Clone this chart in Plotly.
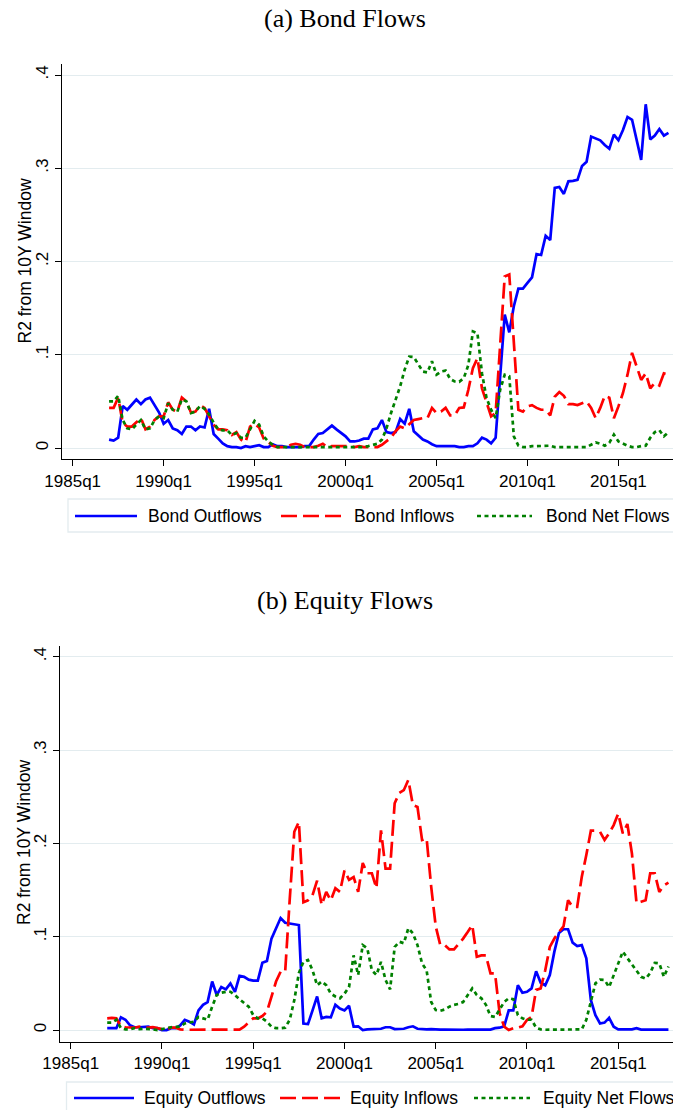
import plotly.graph_objects as go

# ---------------- data ----------------
quarters = [f"{y}q{q}" for y in range(1987, 2018) for q in range(1, 5)]  # 1987q1 .. 2017q4

bond_outflows = [
    0.009, 0.008, 0.011, 0.045, 0.041, 0.046, 0.052, 0.047, 0.052, 0.054,
    0.046, 0.038, 0.026, 0.030, 0.021, 0.019, 0.015, 0.023, 0.023, 0.019,
    0.023, 0.022, 0.042, 0.015, 0.010, 0.005, 0.002, 0.001, 0.001, 0.000,
    0.002, 0.001, 0.002, 0.003, 0.001, 0.001, 0.004, 0.002, 0.002, 0.001,
    0.001, 0.001, 0.001, 0.002, 0.002, 0.009, 0.015, 0.016, 0.020, 0.024,
    0.020, 0.016, 0.0125, 0.007, 0.007, 0.008, 0.010, 0.010, 0.020, 0.021,
    0.030, 0.017, 0.016, 0.017, 0.031, 0.026, 0.042, 0.018, 0.014, 0.009,
    0.007, 0.004, 0.002, 0.002, 0.002, 0.002, 0.002, 0.001, 0.001, 0.002,
    0.002, 0.005, 0.011, 0.009, 0.005, 0.011, 0.077, 0.143, 0.124, 0.152,
    0.171, 0.171, 0.177, 0.183, 0.208, 0.207, 0.2275, 0.223, 0.279, 0.280,
    0.2725, 0.286, 0.2865, 0.2875, 0.3025, 0.307, 0.334, 0.332, 0.330, 0.325,
    0.321, 0.336, 0.330, 0.341, 0.355, 0.352, 0.330, 0.309, 0.3686, 0.331,
    0.335, 0.342, 0.335, 0.338,
]
bond_inflows = [
    0.043, 0.043, 0.054, 0.027, 0.023, 0.023, 0.0275, 0.032, 0.020, 0.023,
    0.030, 0.034, 0.034, 0.049, 0.041, 0.039, 0.054, 0.050, 0.038, 0.039,
    0.046, 0.043, 0.034, 0.025, 0.020, 0.020, 0.019, 0.014, 0.017, 0.009,
    0.006, 0.023, 0.026, 0.022, 0.010, 0.006, 0.0025, 0.001, 0.001, 0.001,
    0.0035, 0.0045, 0.0035, 0.001, 0.001, 0.001, 0.0025, 0.0045, 0.001, 0.002,
    0.002, 0.002, 0.0025, 0.002, 0.001, 0.002, 0.001, 0.001, 0.001, 0.001,
    0.0035, 0.007, 0.011, 0.018, 0.023, 0.021, 0.026, 0.030, 0.031, 0.032,
    0.032, 0.043, 0.0375, 0.039, 0.043, 0.035, 0.035, 0.043, 0.0435, 0.0625,
    0.0857, 0.0964, 0.064, 0.050, 0.034, 0.0375, 0.116, 0.184, 0.186, 0.1125,
    0.041, 0.039, 0.0446, 0.046, 0.043, 0.041, 0.041, 0.035, 0.055, 0.060,
    0.056, 0.047, 0.047, 0.046, 0.048, 0.050, 0.043, 0.032, 0.043, 0.056,
    0.054, 0.032, 0.0446, 0.059, 0.0786, 0.102, 0.0875, 0.073, 0.080, 0.064,
    0.070, 0.067, 0.080, 0.079,
]
bond_net = [
    0.050, 0.050, 0.056, 0.030, 0.021, 0.020, 0.025, 0.030, 0.020, 0.021,
    0.030, 0.034, 0.032, 0.048, 0.041, 0.039, 0.052, 0.050, 0.0375, 0.039,
    0.045, 0.042, 0.036, 0.027, 0.020, 0.019, 0.019, 0.014, 0.016, 0.011,
    0.011, 0.020, 0.029, 0.025, 0.0125, 0.007, 0.0035, 0.001, 0.001, 0.0005,
    0.0005, 0.001, 0.001, 0.0005, 0.0005, 0.001, 0.001, 0.001, 0.0005, 0.001,
    0.001, 0.001, 0.001, 0.0005, 0.0005, 0.001, 0.001, 0.002, 0.0035, 0.0045,
    0.009, 0.021, 0.0375, 0.052, 0.066, 0.084, 0.098, 0.0975, 0.089, 0.082,
    0.081, 0.093, 0.0786, 0.082, 0.083, 0.074, 0.0714, 0.071, 0.075, 0.089,
    0.125, 0.123, 0.080, 0.0536, 0.041, 0.032, 0.0625, 0.0786, 0.077, 0.0125,
    0.0025, 0.001, 0.001, 0.002, 0.002, 0.002, 0.002, 0.0025, 0.001, 0.001,
    0.001, 0.001, 0.001, 0.001, 0.001, 0.001, 0.0035, 0.006, 0.0045, 0.0025,
    0.0055, 0.0143, 0.007, 0.0045, 0.0025, 0.001, 0.001, 0.002, 0.0025, 0.011,
    0.017, 0.019, 0.0125, 0.017,
]
equity_outflows = [
    0.002, 0.002, 0.002, 0.0136, 0.011, 0.005, 0.003, 0.003, 0.003, 0.0036,
    0.002, 0.002, 0.000, 0.000, 0.002, 0.002, 0.005, 0.011, 0.009, 0.006,
    0.021, 0.027, 0.030, 0.052, 0.0375, 0.046, 0.0436, 0.050, 0.041, 0.058,
    0.057, 0.054, 0.053, 0.053, 0.072, 0.074, 0.098, 0.109, 0.120, 0.115,
    0.114, 0.1136, 0.1125, 0.007, 0.0064, 0.021, 0.036, 0.0125, 0.014, 0.0136,
    0.027, 0.023, 0.021, 0.026, 0.0036, 0.004, 0.000, 0.0007, 0.001, 0.001,
    0.0014, 0.003, 0.003, 0.001, 0.0014, 0.0014, 0.003, 0.004, 0.0014, 0.0007,
    0.0007, 0.001, 0.0005, 0.0005, 0.0005, 0.0003, 0.0003, 0.0003, 0.0003, 0.0005,
    0.0005, 0.0005, 0.0005, 0.0005, 0.0005, 0.002, 0.0025, 0.004, 0.021, 0.021,
    0.048, 0.040, 0.041, 0.0446, 0.063, 0.0507, 0.048, 0.059, 0.084, 0.104,
    0.108, 0.108, 0.0936, 0.090, 0.091, 0.0768, 0.032, 0.016, 0.007, 0.008,
    0.013, 0.0036, 0.0007, 0.0007, 0.0005, 0.0007, 0.002, 0.0005, 0.0005, 0.0005,
    0.0007, 0.001, 0.0005, 0.0005,
]
equity_inflows = [
    0.0125, 0.013, 0.0125, 0.004, 0.003, 0.003, 0.0025, 0.0036, 0.003, 0.0025,
    0.003, 0.002, 0.001, 0.001, 0.0025, 0.0025, 0.0007, 0.0003, 0.0003, 0.0003,
    0.0003, 0.0003, 0.0003, 0.0005, 0.0003, 0.0003, 0.0003, 0.0003, 0.0003, 0.0005,
    0.0036, 0.008, 0.0125, 0.0125, 0.015, 0.0196, 0.036, 0.052, 0.0625, 0.0625,
    0.140, 0.2125, 0.223, 0.137, 0.139, 0.1446, 0.160, 0.134, 0.148, 0.139,
    0.152, 0.148, 0.171, 0.161, 0.164, 0.148, 0.179, 0.168, 0.168, 0.152,
    0.214, 0.173, 0.173, 0.243, 0.254, 0.257, 0.268, 0.241, 0.239, 0.2036,
    0.2054, 0.1536, 0.111, 0.091, 0.091, 0.0864, 0.0864, 0.092, 0.098, 0.105,
    0.1125, 0.0786, 0.080, 0.080, 0.0607, 0.0607, 0.018, 0.0036, 0.000, 0.002,
    0.0025, 0.004, 0.0107, 0.014, 0.043, 0.0446, 0.064, 0.089, 0.098, 0.105,
    0.111, 0.139, 0.132, 0.132, 0.164, 0.1875, 0.2136, 0.2136, 0.2125, 0.2036,
    0.2107, 0.2196, 0.232, 0.2107, 0.2207, 0.189, 0.136, 0.1375, 0.139, 0.168,
    0.168, 0.148, 0.155, 0.158,
]
equity_net = [
    0.008, 0.008, 0.011, 0.002, 0.0007, 0.0007, 0.002, 0.001, 0.0014, 0.0014,
    0.0007, 0.000, 0.0007, 0.002, 0.003, 0.0036, 0.0036, 0.007, 0.008, 0.009,
    0.014, 0.0125, 0.011, 0.025, 0.0375, 0.040, 0.041, 0.041, 0.0375, 0.033,
    0.0286, 0.025, 0.016, 0.0125, 0.0125, 0.009, 0.0036, 0.002, 0.002, 0.0025,
    0.011, 0.032, 0.061, 0.073, 0.075, 0.064, 0.048, 0.052, 0.048, 0.039,
    0.036, 0.034, 0.039, 0.046, 0.080, 0.059, 0.091, 0.0875, 0.064, 0.059,
    0.073, 0.0536, 0.0436, 0.089, 0.0946, 0.093, 0.109, 0.1036, 0.091, 0.0714,
    0.064, 0.030, 0.0214, 0.0207, 0.022, 0.025, 0.027, 0.028, 0.030, 0.0375,
    0.0446, 0.0375, 0.034, 0.027, 0.015, 0.014, 0.0214, 0.030, 0.034, 0.033,
    0.016, 0.0125, 0.011, 0.011, 0.0025, 0.0007, 0.0003, 0.0003, 0.0003, 0.0003,
    0.0003, 0.0003, 0.0003, 0.0003, 0.0007, 0.011, 0.030, 0.050, 0.054, 0.0536,
    0.046, 0.059, 0.070, 0.084, 0.077, 0.0707, 0.064, 0.057, 0.055, 0.061,
    0.072, 0.0714, 0.057, 0.068,
]

x_tick_labels = ["1985q1", "1990q1", "1995q1", "2000q1", "2005q1", "2010q1", "2015q1"]
y_tick_values = [0, 0.1, 0.2, 0.3, 0.4]
y_tick_labels = ["0", ".1", ".2", ".3", ".4"]
panel_titles = ["(a) Bond Flows", "(b) Equity Flows"]
legend_names = [["Bond Outflows", "Bond Inflows", "Bond Net Flows"],
                ["Equity Outflows", "Equity Inflows", "Equity Net Flows"]]
y_title = "R2 from 10Y Window"

# ---------------- helpers ----------------
def qindex(label):
    y, q = label.split("q")
    return (int(y) - 1985) * 4 + int(q) - 1

xq = [qindex(s) for s in quarters]
xtickvals = [qindex(s) for s in x_tick_labels]

W, H = 673, 1110
BLUE, RED, GREEN = "#0000FF", "#FF0000", "#008000"
SANS = "Liberation Sans, Arial, Helvetica, sans-serif"
SERIF = "Liberation Serif, Times New Roman, serif"
styles = [dict(color=BLUE, width=2.7, dash="solid"),
          dict(color=RED, width=2.7, dash="16px,6px"),
          dict(color=GREEN, width=2.7, dash="4px,3.5px")]

def px_x(p):
    return p / W

def px_y(p):
    return 1 - p / H

fig = go.Figure()
series = [[bond_outflows, bond_inflows, bond_net],
          [equity_outflows, equity_inflows, equity_net]]
for panel in range(2):
    xa = "x" if panel == 0 else "x2"
    ya = "y" if panel == 0 else "y2"
    for k in range(3):
        fig.add_trace(go.Scatter(x=xq, y=series[panel][k], mode="lines",
                                 line=styles[k], name=legend_names[panel][k],
                                 showlegend=False, xaxis=xa, yaxis=ya))

axis_common = dict(showline=True, linecolor="black", linewidth=1.3,
                   ticks="outside", ticklen=6, tickwidth=1.3, tickcolor="black",
                   tickfont=dict(family=SANS, size=17, color="black"),
                   zeroline=False, automargin=False)

xrange_ = [-2.35, 132.0]
fig.update_layout(
    template="none",
    width=W, height=H, margin=dict(l=0, r=0, t=0, b=0, pad=0, autoexpand=False),
    paper_bgcolor="white", plot_bgcolor="white",
    xaxis=dict(domain=[px_x(62), 1.0], range=xrange_, anchor="y",
               tickvals=xtickvals, ticktext=x_tick_labels, showgrid=False,
               **axis_common),
    yaxis=dict(domain=[px_y(459), px_y(64)], range=[-0.0118, 0.4118], anchor="x",
               tickvals=y_tick_values, ticktext=y_tick_labels, tickangle=-90,
               showgrid=True, gridcolor="#E3ECEF", gridwidth=1, **axis_common),
    xaxis2=dict(domain=[px_x(60), 1.0], range=xrange_, anchor="y2",
                tickvals=xtickvals, ticktext=x_tick_labels, showgrid=False,
                **axis_common),
    yaxis2=dict(domain=[px_y(1041.7), px_y(646)], range=[-0.0125, 0.4115], anchor="x2",
                tickvals=y_tick_values, ticktext=y_tick_labels, tickangle=-90,
                showgrid=True, gridcolor="#E3ECEF", gridwidth=1, **axis_common),
)

annotations = []
shapes = []
# panel titles
for title, yc in zip(panel_titles, [18, 600]):
    annotations.append(dict(text=title, x=px_x(345), y=px_y(yc), xref="paper", yref="paper",
                            xanchor="center", yanchor="middle", showarrow=False,
                            font=dict(family=SERIF, size=26, color="black")))
# y axis titles
for yc in [261.5, 843]:
    annotations.append(dict(text=y_title, x=px_x(24), y=px_y(yc), xref="paper", yref="paper",
                            xanchor="center", yanchor="middle", textangle=-90, showarrow=False,
                            font=dict(family=SANS, size=17.5, color="black")))

# manual legends
legend_specs = [
    dict(box=(68, 499, 690, 532), yc=516,
         keys=[(75, 137), (281, 342), (477, 532)], texts=[146, 352, 544]),
    dict(box=(66.5, 1082, 690, 1125), yc=1098,
         keys=[(74, 134), (280, 340), (474, 530)], texts=[142, 348, 541]),
]
for panel, spec in enumerate(legend_specs):
    x0, y0, x1, y1 = spec["box"]
    shapes.append(dict(type="rect", xref="paper", yref="paper",
                       x0=px_x(x0), x1=px_x(x1), y0=px_y(y1), y1=px_y(y0),
                       line=dict(color="#E3ECEF", width=1.3), fillcolor="white", layer="below"))
    for k in range(3):
        ka, kb = spec["keys"][k]
        st = styles[k]
        shapes.append(dict(type="line", xref="paper", yref="paper",
                           x0=px_x(ka), x1=px_x(kb), y0=px_y(spec["yc"]), y1=px_y(spec["yc"]),
                           line=dict(color=st["color"], width=st["width"], dash=st["dash"])))
        annotations.append(dict(text=legend_names[panel][k], x=px_x(spec["texts"][k]),
                                y=px_y(spec["yc"]), xref="paper", yref="paper",
                                xanchor="left", yanchor="middle", showarrow=False,
                                font=dict(family=SANS, size=17.5, color="black")))

fig.update_layout(annotations=annotations, shapes=shapes)
fig.write_html("out.html")
